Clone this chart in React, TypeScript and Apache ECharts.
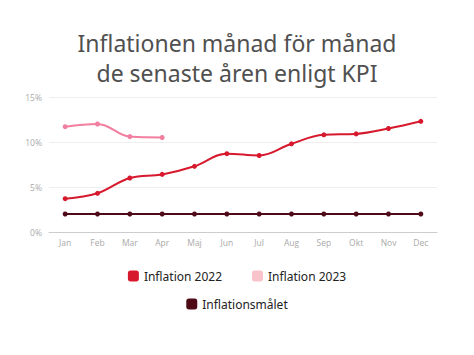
import React, { useEffect, useRef } from "react";
import * as echarts from "echarts";

const months = ["Jan", "Feb", "Mar", "Apr", "Maj", "Jun", "Jul", "Aug", "Sep", "Okt", "Nov", "Dec"];
const infl2022 = [3.7, 4.3, 6.0, 6.4, 7.3, 8.7, 8.5, 9.8, 10.8, 10.9, 11.5, 12.3];
const infl2023 = [11.7, 12.0, 10.6, 10.5];
const target = [2, 2, 2, 2, 2, 2, 2, 2, 2, 2, 2, 2];

export default function App() {
  const ref = useRef<HTMLDivElement>(null);
  useEffect(() => {
    const chart = echarts.init(ref.current!, null, { renderer: "svg" });
    chart.setOption({
      animation: false,
      backgroundColor: "#ffffff",
      title: {
        text: "Inflationen månad för månad\nde senaste åren enligt KPI",
        left: "center",
        top: 23,
        textStyle: { fontFamily: "Noto Sans", fontWeight: "normal", fontSize: 23, color: "#505050", lineHeight: 30 },
      },
      legend: [
        {
          data: [
            { name: "Inflation 2022", itemStyle: { color: "#d7192d" } },
            { name: "Inflation 2023", itemStyle: { color: "#f9c3cb" } },
          ],
          top: 265,
          left: "center",
          itemGap: 30,
          itemWidth: 11,
          itemHeight: 11,
          icon: "roundRect",
          textStyle: { fontFamily: "Noto Sans", fontSize: 12, color: "#222" },
        },
        {
          data: [{ name: "Inflationsmålet", itemStyle: { color: "#4e0a16" } }],
          top: 293,
          left: "center",
          itemWidth: 11,
          itemHeight: 11,
          icon: "roundRect",
          textStyle: { fontFamily: "Noto Sans", fontSize: 12, color: "#222" },
        },
      ],
      grid: { left: 49, right: 37, top: 97, bottom: 123, containLabel: false },
      xAxis: {
        type: "category",
        data: months,
        boundaryGap: true,
        axisLine: { lineStyle: { color: "#cccccc" } },
        axisTick: { show: false },
        axisLabel: { color: "#aaaaaa", fontSize: 8.5, fontFamily: "Open Sans", margin: 6 },
      },
      yAxis: {
        type: "value",
        min: 0,
        max: 15,
        interval: 5,
        axisLabel: { formatter: "{value}%", color: "#aaaaaa", fontSize: 8.5, fontFamily: "Open Sans", margin: 7 },
        splitLine: { lineStyle: { color: "#eeeeee" } },
      },
      series: [
        {
          name: "Inflation 2022",
          type: "line",
          data: infl2022,
          smooth: 0.4,
          symbol: "circle",
          symbolSize: 5,
          lineStyle: { color: "#d7192d", width: 2 },
          itemStyle: { color: "#d7192d" },
        },
        {
          name: "Inflation 2023",
          type: "line",
          data: infl2023,
          smooth: 0.4,
          symbol: "circle",
          symbolSize: 5,
          lineStyle: { color: "#f27ea0", width: 2 },
          itemStyle: { color: "#f27ea0" },
        },
        {
          name: "Inflationsmålet",
          type: "line",
          data: target,
          symbol: "circle",
          symbolSize: 5,
          lineStyle: { color: "#4e0a16", width: 2 },
          itemStyle: { color: "#4e0a16" },
        },
      ],
    });
    return () => chart.dispose();
  }, []);
  return <div ref={ref} style={{ width: 474, height: 355, position: "absolute", left: 0, top: 0 }} />;
}
